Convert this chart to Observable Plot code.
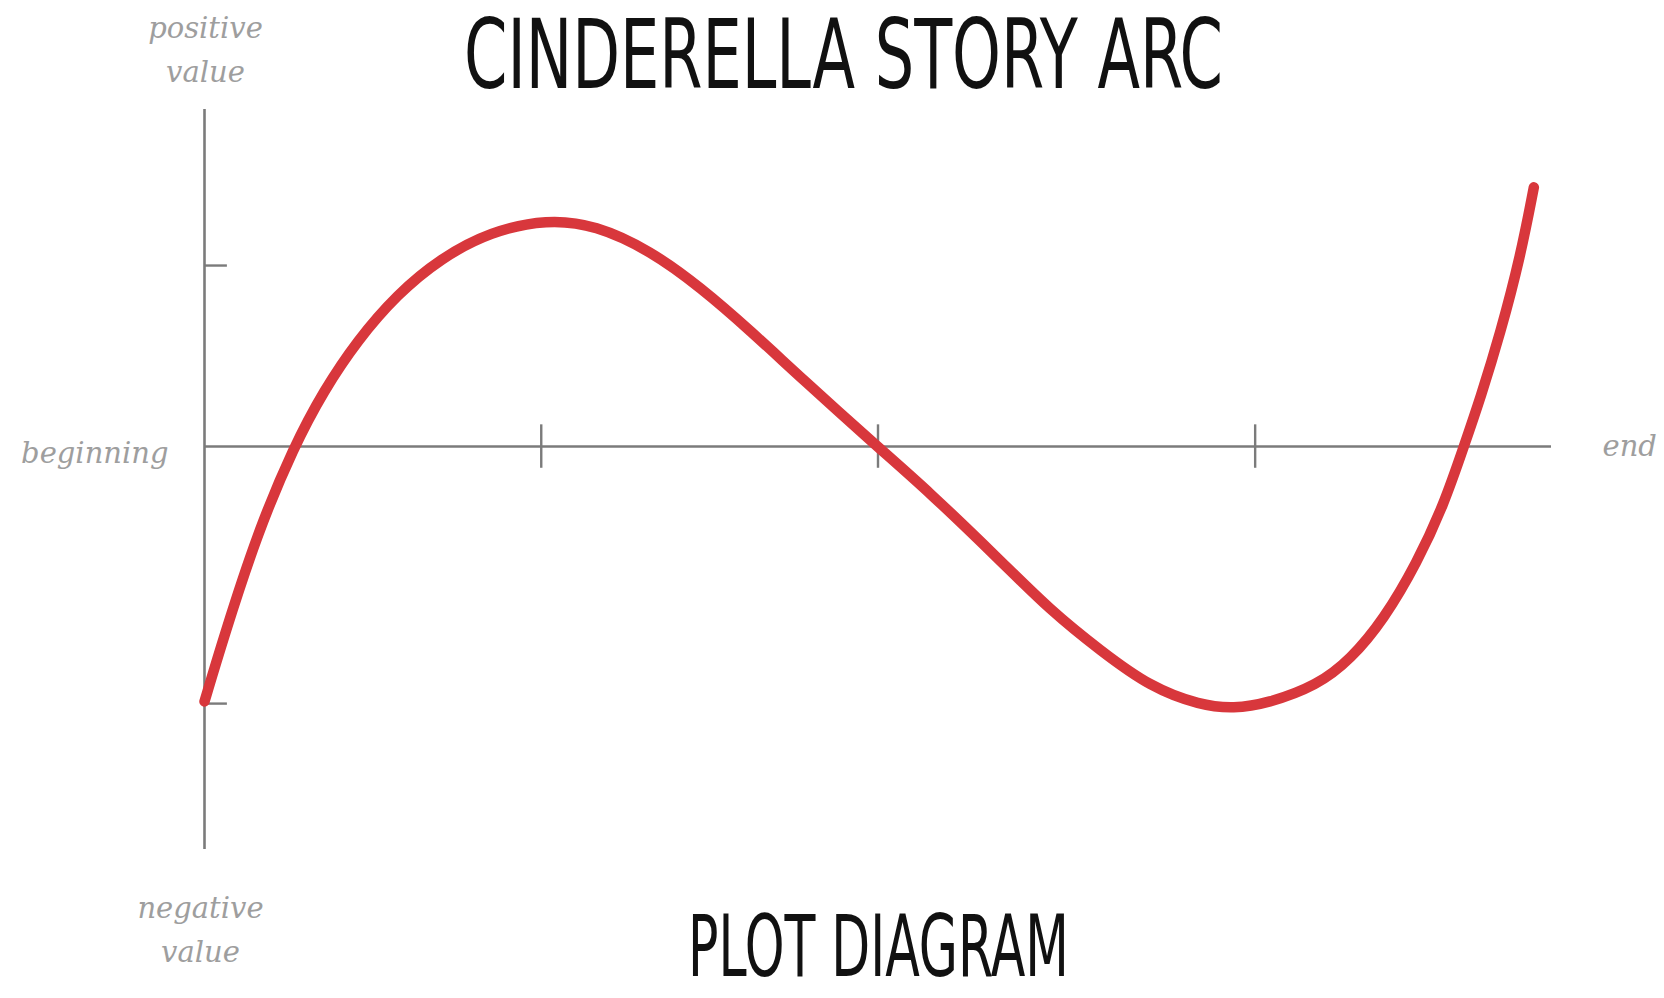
<!DOCTYPE html>
<html><head><meta charset="utf-8">
<script src="https://cdn.jsdelivr.net/npm/d3@7"></script>
<script src="https://cdn.jsdelivr.net/npm/@observablehq/plot@0.6"></script>
<style>
html,body{margin:0;padding:0;background:#fff;}
#wrap{position:relative;width:1664px;height:998px;overflow:hidden;background:#fff;}
#chart{position:absolute;left:0;top:0;}
.big{position:absolute;margin:0;padding:0;font-family:"DejaVu Sans Condensed","DejaVu Sans",sans-serif;font-stretch:condensed;font-weight:400;color:#111;white-space:nowrap;transform-origin:0 0;z-index:2;line-height:normal;}
#title{font-size:96px;left:464px;top:-1px;}
#caption{font-size:86px;left:688px;top:896px;}
</style></head><body>
<div id="wrap">
<div id="chart"></div>
<h1 id="title" class="big">CINDERELLA STORY ARC</h1>
<div id="caption" class="big">PLOT DIAGRAM</div>
</div>
<script>
// ---- data (story time 0..100, value in arbitrary units) ----
const storyTime = [0, 1.43, 3.91, 6.63, 8.86, 11.34, 14.31, 17.52, 21.23, 25.44, 29.03, 33.11, 36.82, 40.53, 44.25, 49.94, 53.65, 59.09, 62.81, 66.52, 70.23, 73.94, 76.41, 78.89, 82.61, 85.08, 87.55, 90.03, 92.0, 93.49, 94.73, 96.21, 97.7, 98.69];
const storyValue = [-7.04, -5.26, -2.4, 0, 1.55, 2.93, 4.21, 5.2, 5.94, 6.28, 6.12, 5.41, 4.4, 3.2, 1.91, 0, -1.2, -3.15, -4.53, -5.64, -6.65, -7.15, -7.24, -7.1, -6.6, -5.88, -4.78, -3.2, -1.61, 0, 1.35, 3.14, 5.26, 7.16];
const xTicks = [25, 50, 78];
const yTicks = [5, -7.1];
const xDomain = [0, 100];
const yDomain = [-11.13, 9.31];
const axisLabels = ["beginning", "end", "positive\nvalue", "negative\nvalue"];

const arc = storyTime.map((t, i) => ({t, v: storyValue[i]}));

const red = "#d8373c", axisGray = "#7b7b7b", labelGray = "#9e9e9e";
const labelFont = "DejaVu Serif, serif";

const plot = Plot.plot({
  width: 1664,
  height: 998,
  marginLeft: 204,
  marginRight: 113,
  marginTop: 109,
  marginBottom: 149,
  style: {background: "transparent", overflow: "visible"},
  x: {domain: xDomain, axis: null},
  y: {domain: yDomain, axis: null},
  marks: [
    // axes
    Plot.ruleY([0], {x1: xDomain[0], x2: xDomain[1], stroke: axisGray, strokeWidth: 2.6}),
    Plot.ruleX([0], {y1: yDomain[0], y2: yDomain[1], stroke: axisGray, strokeWidth: 2.6}),
    Plot.ruleX(xTicks, {x: d => d, y1: -0.6, y2: 0.6, stroke: axisGray, strokeWidth: 2.4}),
    Plot.ruleY(yTicks, {y: d => d, x1: 0, x2: 1.7, stroke: axisGray, strokeWidth: 2.4}),
    // story arc
    Plot.line(arc, {x: "t", y: "v", curve: "basis", stroke: red, strokeWidth: 10.5, strokeLinecap: "round", strokeLinejoin: "round"}),
    // axis labels
    Plot.text([axisLabels[0]], {x: xDomain[0], y: 0, text: d => d, textAnchor: "end", dx: -36, dy: 7, fill: labelGray, fontSize: 29, fontStyle: "italic", fontFamily: labelFont}),
    Plot.text([axisLabels[1]], {x: xDomain[1], y: 0, text: d => d, textAnchor: "start", dx: 51, dy: 0, fill: labelGray, fontSize: 29, fontStyle: "italic", fontFamily: labelFont}),
    Plot.text([axisLabels[2]], {x: xDomain[0], y: yDomain[1], text: d => d, dx: 1, dy: -64, lineHeight: 1.52, fill: labelGray, fontSize: 29, fontStyle: "italic", fontFamily: labelFont}),
    Plot.text([axisLabels[3]], {x: xDomain[0], y: yDomain[0], text: d => d, dx: -4, dy: 76, lineHeight: 1.52, fill: labelGray, fontSize: 29, fontStyle: "italic", fontFamily: labelFont})
  ]
});
document.getElementById("chart").appendChild(plot);

// condense the headline text to the reference widths
function fit(id, w) {
  const el = document.getElementById(id);
  const r = el.getBoundingClientRect();
  el.style.transform = `scaleX(${w / r.width})`;
}
fit("title", 759);
fit("caption", 381);
</script>
</body></html>
